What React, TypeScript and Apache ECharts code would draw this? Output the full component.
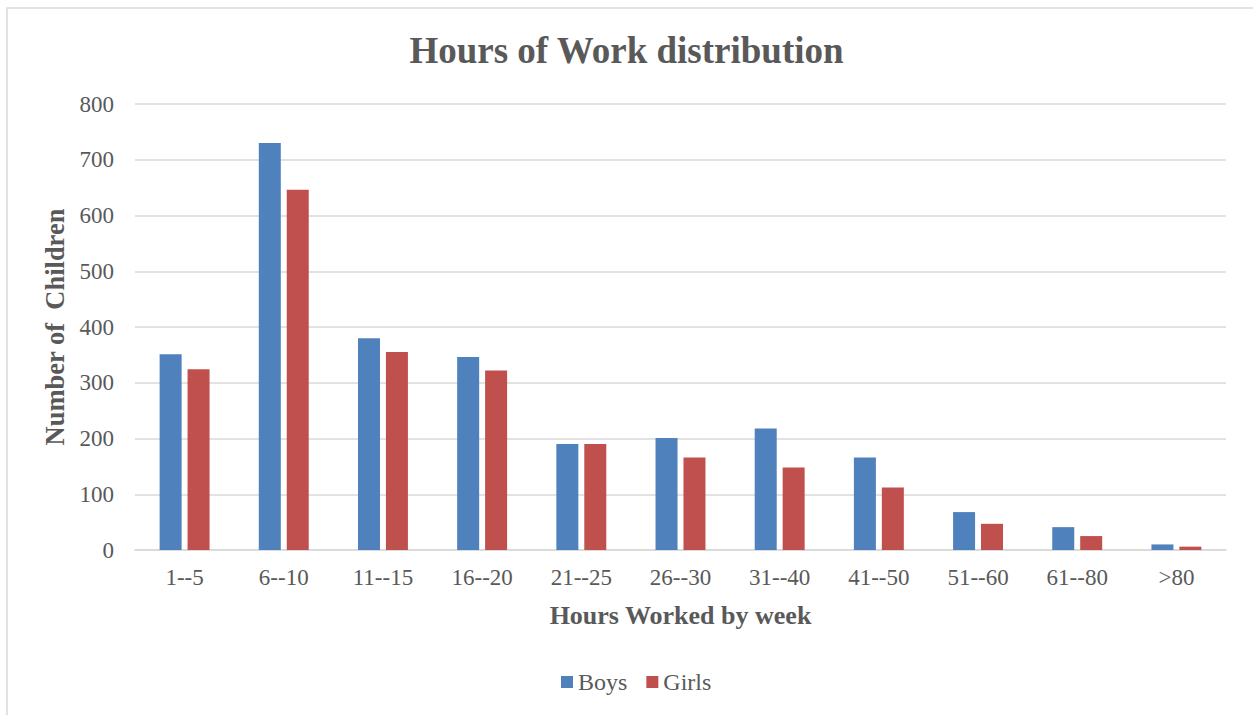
import React, { useEffect, useRef } from "react";
import * as echarts from "echarts";

const categories = ["1--5", "6--10", "11--15", "16--20", "21--25", "26--30", "31--40", "41--50", "51--60", "61--80", ">80"];
const boys = [351, 730, 380, 346, 190, 201, 218, 166, 68, 41, 10];
const girls = [324, 646, 355, 322, 190, 166, 148, 112, 47, 25, 6];
const yTicks = { min: 0, max: 800, interval: 100 };

const FONT = '"Liberation Serif", "Times New Roman", serif';
const TEXT = "#595959";

export default function App() {
  const ref = useRef<HTMLDivElement>(null);
  useEffect(() => {
    document.body.style.margin = "0";
    const chart = echarts.init(ref.current!, null, { renderer: "svg" });
    chart.setOption({
      animation: false,
      backgroundColor: "#ffffff",
      textStyle: { fontFamily: FONT, color: TEXT },
      title: {
        text: "Hours of Work distribution",
        left: "center",
        top: 27,
        textStyle: { fontFamily: FONT, fontSize: 37, fontWeight: "bold", color: TEXT },
      },
      graphic: [
        {
          type: "rect",
          shape: { x: 7, y: 8, width: 1270, height: 730 },
          style: { fill: "none", stroke: "#d9d9d9", lineWidth: 1.5 },
          silent: true,
          z: -1,
        },
      ],
      grid: { left: 135, right: 27, top: 104, bottom: 165, containLabel: false },
      legend: {
        data: ["Boys", "Girls"],
        bottom: 16,
        left: 556,
        itemWidth: 12,
        itemHeight: 12,
        itemGap: 19,
        icon: "rect",
        textStyle: { fontFamily: FONT, fontSize: 24, color: TEXT },
      },
      xAxis: {
        type: "category",
        data: categories,
        axisTick: { show: false },
        axisLine: { lineStyle: { color: "#d9d9d9", width: 1.5 } },
        axisLabel: { fontFamily: FONT, fontSize: 23, color: TEXT, margin: 16 },
        name: "Hours Worked by week",
        nameLocation: "middle",
        nameGap: 52,
        nameTextStyle: { fontFamily: FONT, fontSize: 26, fontWeight: "bold", color: TEXT },
      },
      yAxis: {
        type: "value",
        min: yTicks.min,
        max: yTicks.max,
        interval: yTicks.interval,
        axisLine: { show: false },
        axisTick: { show: false },
        splitLine: { lineStyle: { color: "#d9d9d9", width: 1.5 } },
        axisLabel: { fontFamily: FONT, fontSize: 23, color: TEXT, margin: 21 },
        name: "Number of  Children",
        nameLocation: "middle",
        nameGap: 66,
        nameTextStyle: { fontFamily: FONT, fontSize: 26.5, fontWeight: "bold", color: TEXT },
      },
      series: [
        {
          name: "Boys",
          type: "bar",
          data: boys,
          barWidth: 22,
          barGap: "27%",
          itemStyle: { color: "#4f81bd" },
        },
        {
          name: "Girls",
          type: "bar",
          data: girls,
          barWidth: 22,
          itemStyle: { color: "#c0504d" },
        },
      ],
    });
    return () => chart.dispose();
  }, []);
  return <div ref={ref} style={{ width: 1253, height: 715 }} />;
}
